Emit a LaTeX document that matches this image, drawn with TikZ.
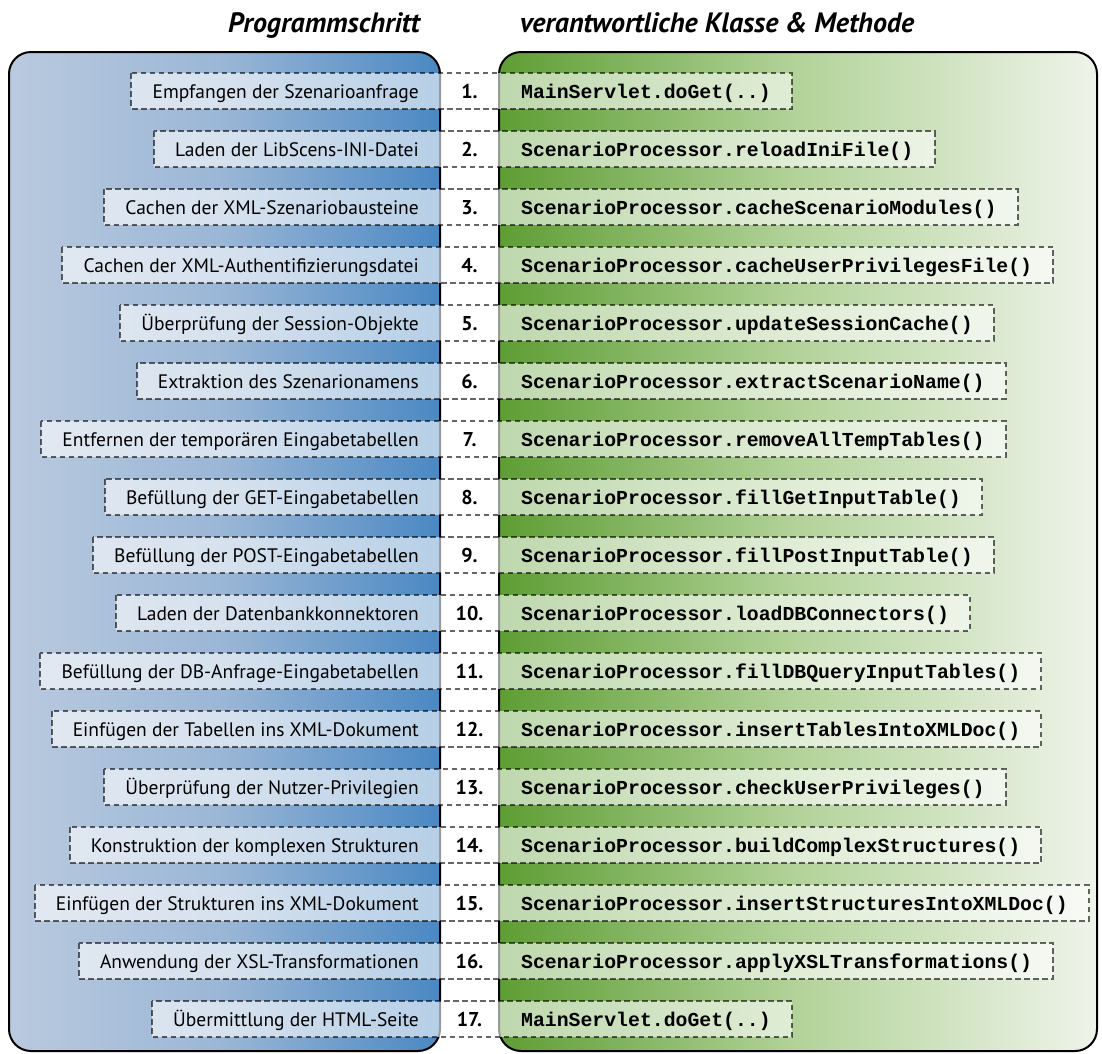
\documentclass[tikz,border=0pt]{standalone}
\usepackage{fontspec}
\setmainfont{PT Sans}
\newfontfamily\monof{Liberation Mono}
\usetikzlibrary{calc}
\definecolor{blueL}{HTML}{BACADF}
\definecolor{blueM}{HTML}{9AB6D6}
\definecolor{blueR}{HTML}{4A88C3}
\definecolor{greenL}{HTML}{5E9D34}
\definecolor{greenM}{HTML}{B3D39A}
\definecolor{greenR}{HTML}{EFF4EA}
\pgfdeclarelayer{panels}
\pgfdeclarelayer{boxes}
\pgfsetlayers{panels,boxes,main}
\tikzset{
  panelborder/.style={draw=black, line width=2pt, rounded corners=22pt},
  lefttext/.style={font=\fontsize{19.5}{24}\selectfont, inner xsep=21pt, inner ysep=0pt,
    text height=25pt, text depth=10pt, anchor=base east},
  righttext/.style={font=\monof\bfseries\fontsize{19.8}{24}\selectfont, inner xsep=21pt, inner ysep=0pt,
    text height=25pt, text depth=10pt, anchor=base west},
  numtext/.style={font=\bfseries\fontsize{20}{24}\selectfont, anchor=base, inner sep=0pt},
  rowbox/.style={fill=white, fill opacity=0.6, draw=black, draw opacity=0.6,
    line width=2pt, dash pattern=on 5.5pt off 3.5pt},
  titletext/.style={font=\bfseries\itshape\fontsize{28}{32}\selectfont, inner sep=0pt}
}
\begin{document}
\begin{tikzpicture}[x=1pt,y=-1pt]
\useasboundingbox (0,0) rectangle (1102,1053);
\begin{pgfonlayer}{panels}
  \shade[rounded corners=22pt, left color=blueL, right color=blueR, middle color=blueM]
    (9,52) rectangle (440,1051);
  \draw[panelborder] (9,52) rectangle (440,1051);
  \shade[rounded corners=22pt, left color=greenL, right color=greenR, middle color=greenM]
    (499,52) rectangle (1097,1051);
  \draw[panelborder] (499,52) rectangle (1097,1051);
\end{pgfonlayer}
\node[titletext, anchor=base east] (t1) at (420,32) {Programmschritt};
\node[titletext, anchor=base west] (t2) at (520,32) {verantwortliche Klasse \& Methode};
\foreach \la/\ra [count=\i] in {
  Empfangen der Szenarioanfrage/MainServlet.doGet(..),
  Laden der LibScens-INI-Datei/ScenarioProcessor.reloadIniFile(),
  Cachen der XML-Szenariobausteine/ScenarioProcessor.cacheScenarioModules(),
  Cachen der XML-Authentifizierungsdatei/ScenarioProcessor.cacheUserPrivilegesFile(),
  Überprüfung der Session-Objekte/ScenarioProcessor.updateSessionCache(),
  Extraktion des Szenarionamens/ScenarioProcessor.extractScenarioName(),
  Entfernen der temporären Eingabetabellen/ScenarioProcessor.removeAllTempTables(),
  Befüllung der GET-Eingabetabellen/ScenarioProcessor.fillGetInputTable(),
  Befüllung der POST-Eingabetabellen/ScenarioProcessor.fillPostInputTable(),
  Laden der Datenbankkonnektoren/ScenarioProcessor.loadDBConnectors(),
  Befüllung der DB-Anfrage-Eingabetabellen/ScenarioProcessor.fillDBQueryInputTables(),
  Einfügen der Tabellen ins XML-Dokument/ScenarioProcessor.insertTablesIntoXMLDoc(),
  Überprüfung der Nutzer-Privilegien/ScenarioProcessor.checkUserPrivileges(),
  Konstruktion der komplexen Strukturen/ScenarioProcessor.buildComplexStructures(),
  Einfügen der Strukturen ins XML-Dokument/ScenarioProcessor.insertStructuresIntoXMLDoc(),
  Anwendung der XSL-Transformationen/ScenarioProcessor.applyXSLTransformations(),
  Übermittlung der HTML-Seite/MainServlet.doGet(..)%
}{
  \pgfmathsetmacro\yb{91+58*(\i-1)+7.5}
  \node[lefttext] (L\i) at (440,\yb) {\la};
  \node[numtext] (N\i) at (469.5,\yb) {\i.};
  \node[righttext] (R\i) at (500,\yb) {\ra};
  \begin{pgfonlayer}{boxes}
    \draw[rowbox] (L\i.north west) rectangle (R\i.south east);
  \end{pgfonlayer}
}
\end{tikzpicture}
\end{document}
